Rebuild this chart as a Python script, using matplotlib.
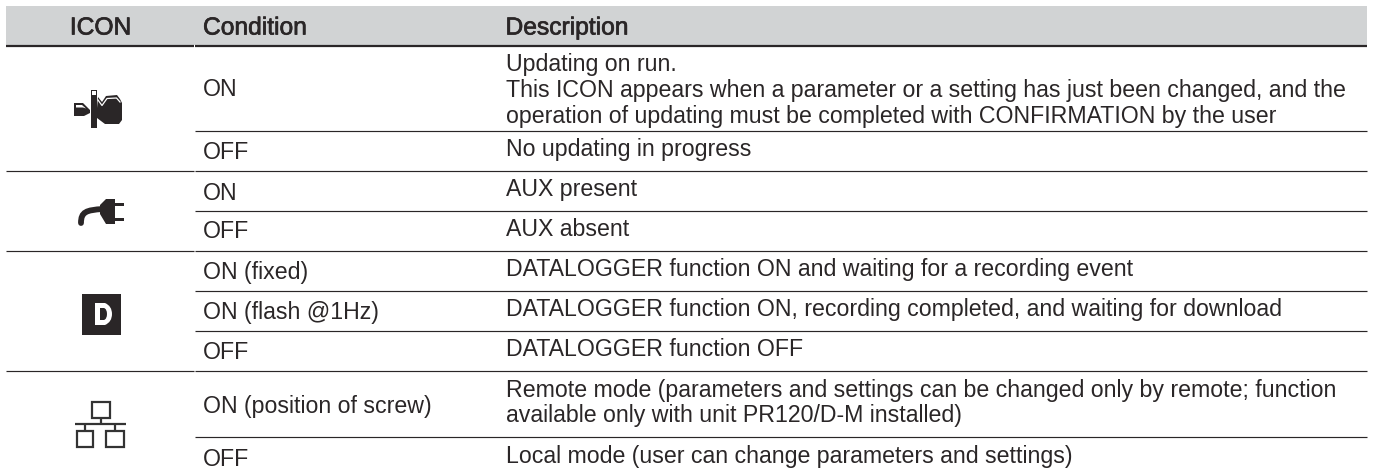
import matplotlib
matplotlib.use('Agg')
import matplotlib.pyplot as plt
import matplotlib.patheffects as pe
from matplotlib.patches import Polygon, Rectangle, PathPatch
from matplotlib.path import Path

plt.rcParams['font.family'] = ['Liberation Sans', 'DejaVu Sans']

headers = ['ICON', 'Condition', 'Description']
conditions = ['ON', 'OFF', 'ON', 'OFF', 'ON (fixed)', 'ON (flash @1Hz)', 'OFF',
              'ON (position of screw)', 'OFF']
descriptions = [
    'Updating on run.\nThis ICON appears when a parameter or a setting has just been changed, and the\noperation of updating must be completed with CONFIRMATION by the user',
    'No updating in progress',
    'AUX present',
    'AUX absent',
    'DATALOGGER function ON and waiting for a recording event',
    'DATALOGGER function ON, recording completed, and waiting for download',
    'DATALOGGER function OFF',
    'Remote mode (parameters and settings can be changed only by remote; function\navailable only with unit PR120/D-M installed)',
    'Local mode (user can change parameters and settings)',
]
# baselines, in pixels from the top
cond_y = [96.5, 159, 199.5, 238, 279, 319, 359, 413, 466]
desc_y = [[71.5, 97.5, 123.3], [156], [196], [236], [276], [316], [355.7], [396.7, 421.7], [462.7]]
# row rules: y position, and whether it runs under the ICON column too
rule_y = [130.5, 170.5, 210.5, 250.5, 290.5, 330.5, 370.5, 437]
rule_full = [False, True, False, True, False, False, True, False]

INK = '#2a2627'
LEFT, GAP, RIGHT = 6, 195, 1367
BODY_SIZE = 16.7

fig = plt.figure(figsize=(13.73, 4.75), dpi=100)
ax = fig.add_axes([0, 0, 1, 1])
ax.set_xlim(0, 1373)
ax.set_ylim(475, 0)
ax.axis('off')

# header band
ax.add_patch(Rectangle((LEFT, 6), RIGHT - LEFT, 39, fc='#d1d3d4', ec='none'))
ax.plot([LEFT, GAP - 1], [45.8, 45.8], color=INK, lw=1.6, solid_capstyle='butt')
ax.plot([GAP, RIGHT], [45.8, 45.8], color=INK, lw=1.6, solid_capstyle='butt')

header_style = dict(fontsize=17.7, color=INK, va='baseline',
                    path_effects=[pe.withStroke(linewidth=0.5, foreground=INK)])
ax.text(100.5, 34.5, headers[0], ha='center', **header_style)
ax.text(203, 34.5, headers[1], ha='left', **header_style)
ax.text(505.5, 34.5, headers[2], ha='left', **header_style)

# rules
for y, full in zip(rule_y, rule_full):
    ax.plot([GAP, RIGHT], [y, y], color=INK, lw=0.85, solid_capstyle='butt')
    if full:
        ax.plot([LEFT, GAP - 1], [y, y], color=INK, lw=0.85, solid_capstyle='butt')

# table text
for txt, y in zip(conditions, cond_y):
    ax.text(203, y, txt, fontsize=BODY_SIZE, color=INK, ha='left', va='baseline')

for txt, ys in zip(descriptions, desc_y):
    for line, y in zip(txt.split('\n'), ys):
        ax.text(505.5, y, line, fontsize=BODY_SIZE, color=INK, ha='left', va='baseline')

# icon 1: updating on run
ax.add_patch(Polygon([(74, 103), (83, 103), (90, 110), (90, 113), (84, 116), (74, 116)], fc=INK, ec='none'))
ax.add_patch(Polygon([(76, 105), (82, 105), (86, 108.5), (83, 107.5), (76, 107.5)], fc='white', ec='none'))
ax.add_patch(Rectangle((91, 90), 6, 38, fc=INK, ec='none'))
ax.add_patch(Rectangle((92, 91), 3.5, 4, fc='white', ec='none'))
ax.add_patch(Polygon([(98, 97), (102, 102), (106, 96), (117, 95), (120, 99), (122, 103), (122, 120),
                      (119, 124), (105, 124), (101, 121), (97, 118), (97, 108)], fc=INK, ec='none'))
ax.plot([98, 102, 107, 116.5, 120], [100, 105.5, 98.5, 98, 102], color='white', lw=0.9)

# icon 2: aux plug
cable = Path([(81, 223), (81, 212), (86, 210), (103, 209)],
             [Path.MOVETO, Path.CURVE4, Path.CURVE4, Path.CURVE4])
ax.add_patch(PathPatch(cable, fc='none', ec=INK, lw=4.2, capstyle='round'))
ax.add_patch(Polygon([(100, 205), (106, 199), (115, 199), (115, 224), (106, 224), (100, 214)], fc=INK, ec='none'))
ax.add_patch(Rectangle((114, 202.5), 10, 3.2, fc=INK, ec='none'))
ax.add_patch(Rectangle((114, 217.5), 10, 3.2, fc=INK, ec='none'))

# icon 3: datalogger D
ax.add_patch(Rectangle((82, 294), 38.5, 41, fc=INK, ec='none'))
d_outer = Path([(95, 303), (105, 303), (112, 306), (112, 314), (112, 322), (105, 325), (95, 325), (95, 303),
                (100, 308), (100, 320), (104, 320), (107, 319), (107, 314), (107, 309), (104, 308), (100, 308)],
               [Path.MOVETO, Path.LINETO, Path.CURVE3, Path.CURVE3, Path.CURVE3, Path.CURVE3, Path.LINETO, Path.CLOSEPOLY,
                Path.MOVETO, Path.LINETO, Path.LINETO, Path.CURVE3, Path.CURVE3, Path.CURVE3, Path.CURVE3, Path.CLOSEPOLY])
ax.add_patch(PathPatch(d_outer, fc='white', ec='none'))

# icon 4: remote network
net = dict(color='#333333', lw=1.6, solid_capstyle='butt')
box = dict(fc='none', ec='#333333', lw=1.6)
ax.add_patch(Rectangle((91.5, 401.5), 18, 16, **box))
ax.add_patch(Rectangle((77, 431), 16, 16, **box))
ax.add_patch(Rectangle((106, 431), 17.5, 16, **box))
ax.plot([100.5, 100.5], [417.5, 423.5], **net)
ax.plot([75, 126], [423.5, 423.5], **net)
ax.plot([85, 85], [423.5, 431], **net)
ax.plot([115, 115], [423.5, 431], **net)

fig.savefig('out.png', dpi=100)
